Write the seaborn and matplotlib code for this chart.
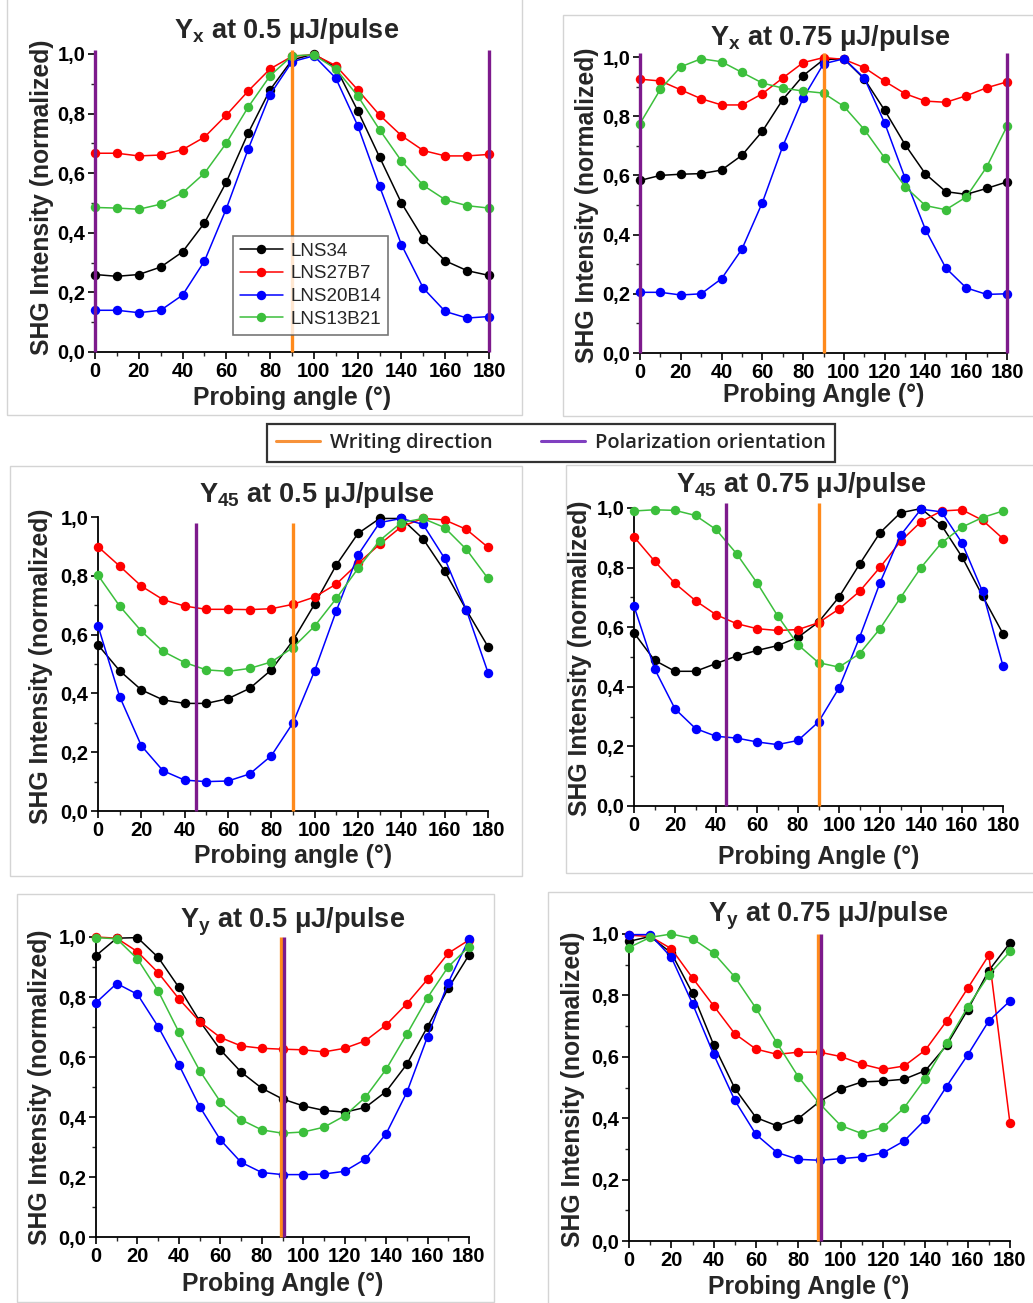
import numpy as np
import pandas as pd
import matplotlib
matplotlib.use("Agg")
import matplotlib.pyplot as plt
import seaborn as sns
from matplotlib.lines import Line2D
from matplotlib.patches import Rectangle
from matplotlib.ticker import MultipleLocator, FuncFormatter

# ---------------- data ----------------
angles = list(range(0, 181, 10))
samples = ["LNS34", "LNS27B7", "LNS20B14", "LNS13B21"]
sample_colors = ["#000000", "#ff0000", "#0000ff", "#3cbf3c"]

# Yx at 0.5 uJ/pulse
yx05_lns34    = [0.26, 0.254, 0.26, 0.285, 0.336, 0.433, 0.57, 0.735, 0.88, 0.98, 1.0, 0.955, 0.81, 0.654, 0.50, 0.38, 0.306, 0.273, 0.257]
yx05_lns27b7  = [0.667, 0.667, 0.658, 0.661, 0.679, 0.721, 0.795, 0.876, 0.95, 0.992, 0.998, 0.961, 0.88, 0.795, 0.726, 0.676, 0.658, 0.658, 0.663]
yx05_lns20b14 = [0.14, 0.14, 0.132, 0.14, 0.191, 0.305, 0.481, 0.681, 0.864, 0.974, 0.994, 0.919, 0.76, 0.556, 0.36, 0.214, 0.136, 0.114, 0.119]
yx05_lns13b21 = [0.485, 0.483, 0.479, 0.496, 0.534, 0.60, 0.701, 0.822, 0.927, 0.994, 0.997, 0.95, 0.86, 0.746, 0.641, 0.559, 0.511, 0.491, 0.483]

# Yx at 0.75 uJ/pulse
yx075_lns34    = [0.583, 0.60, 0.604, 0.606, 0.618, 0.668, 0.749, 0.856, 0.937, 0.991, 0.994, 0.926, 0.82, 0.704, 0.605, 0.545, 0.536, 0.556, 0.578]
yx075_lns27b7  = [0.925, 0.919, 0.889, 0.859, 0.838, 0.838, 0.876, 0.929, 0.981, 0.998, 0.992, 0.964, 0.918, 0.876, 0.851, 0.847, 0.869, 0.896, 0.916]
yx075_lns20b14 = [0.205, 0.205, 0.196, 0.20, 0.251, 0.351, 0.508, 0.698, 0.861, 0.977, 0.994, 0.929, 0.777, 0.591, 0.417, 0.287, 0.22, 0.198, 0.20]
yx075_lns13b21 = [0.775, 0.891, 0.967, 0.994, 0.984, 0.948, 0.912, 0.895, 0.885, 0.878, 0.833, 0.755, 0.659, 0.562, 0.498, 0.484, 0.527, 0.628, 0.766]

# Y45 at 0.5 uJ/pulse
y4505_lns34    = [0.565, 0.477, 0.412, 0.378, 0.366, 0.366, 0.382, 0.417, 0.48, 0.58, 0.704, 0.837, 0.944, 0.995, 0.995, 0.926, 0.816, 0.684, 0.559]
y4505_lns27b7  = [0.899, 0.833, 0.765, 0.719, 0.697, 0.686, 0.686, 0.685, 0.688, 0.703, 0.728, 0.772, 0.842, 0.907, 0.967, 0.995, 0.99, 0.958, 0.897]
y4505_lns20b14 = [0.63, 0.389, 0.222, 0.137, 0.105, 0.10, 0.102, 0.126, 0.188, 0.30, 0.477, 0.681, 0.871, 0.981, 0.995, 0.975, 0.859, 0.684, 0.471]
y4505_lns13b21 = [0.802, 0.697, 0.612, 0.543, 0.505, 0.48, 0.475, 0.485, 0.507, 0.556, 0.629, 0.723, 0.825, 0.92, 0.981, 0.995, 0.964, 0.89, 0.791]

# Y45 at 0.75 uJ/pulse
y45075_lns34    = [0.581, 0.489, 0.452, 0.452, 0.478, 0.503, 0.522, 0.538, 0.566, 0.617, 0.701, 0.811, 0.917, 0.984, 0.998, 0.942, 0.836, 0.705, 0.578]
y45075_lns27b7  = [0.903, 0.822, 0.747, 0.689, 0.642, 0.612, 0.595, 0.589, 0.592, 0.615, 0.661, 0.72, 0.801, 0.888, 0.954, 0.99, 0.994, 0.959, 0.897]
y45075_lns20b14 = [0.671, 0.461, 0.326, 0.26, 0.234, 0.228, 0.215, 0.206, 0.22, 0.282, 0.396, 0.565, 0.749, 0.908, 0.996, 0.987, 0.883, 0.72, 0.47]
y45075_lns13b21 = [0.99, 0.994, 0.992, 0.975, 0.928, 0.847, 0.749, 0.639, 0.541, 0.481, 0.466, 0.511, 0.595, 0.699, 0.80, 0.883, 0.936, 0.968, 0.99]

# Yy at 0.5 uJ/pulse
yy05_lns34    = [0.938, 0.996, 0.998, 0.932, 0.832, 0.72, 0.624, 0.55, 0.496, 0.46, 0.437, 0.422, 0.416, 0.432, 0.485, 0.576, 0.701, 0.829, 0.94]
yy05_lns27b7  = [1.0, 0.996, 0.951, 0.881, 0.794, 0.718, 0.665, 0.637, 0.629, 0.626, 0.624, 0.617, 0.629, 0.654, 0.707, 0.778, 0.859, 0.946, 0.99]
yy05_lns20b14 = [0.781, 0.845, 0.809, 0.701, 0.574, 0.435, 0.324, 0.249, 0.215, 0.208, 0.208, 0.21, 0.219, 0.26, 0.344, 0.482, 0.668, 0.848, 0.993]
yy05_lns13b21 = [0.998, 0.994, 0.927, 0.82, 0.683, 0.555, 0.451, 0.391, 0.357, 0.346, 0.35, 0.366, 0.404, 0.466, 0.559, 0.676, 0.798, 0.901, 0.968]

# Yy at 0.75 uJ/pulse
yy075_lns34    = [0.976, 0.992, 0.938, 0.807, 0.639, 0.497, 0.402, 0.375, 0.399, 0.454, 0.495, 0.518, 0.521, 0.527, 0.555, 0.637, 0.753, 0.881, 0.971]
yy075_lns27b7  = [0.996, 0.992, 0.952, 0.857, 0.766, 0.675, 0.625, 0.608, 0.615, 0.615, 0.601, 0.576, 0.559, 0.57, 0.622, 0.716, 0.823, 0.931, 0.383]
yy075_lns20b14 = [0.998, 0.998, 0.924, 0.773, 0.608, 0.458, 0.347, 0.288, 0.266, 0.263, 0.268, 0.274, 0.287, 0.326, 0.396, 0.503, 0.606, 0.717, 0.782]
yy075_lns13b21 = [0.956, 0.989, 1.0, 0.985, 0.938, 0.86, 0.758, 0.644, 0.535, 0.448, 0.376, 0.35, 0.37, 0.434, 0.529, 0.644, 0.762, 0.867, 0.943]

panel_titles = [r"$\mathrm{Y_{x}}$ at 0.5 μJ/pulse", r"$\mathrm{Y_{x}}$ at 0.75 μJ/pulse",
                r"$\mathrm{Y_{45}}$ at 0.5 μJ/pulse", r"$\mathrm{Y_{45}}$ at 0.75 μJ/pulse",
                r"$\mathrm{Y_{y}}$ at 0.5 μJ/pulse", r"$\mathrm{Y_{y}}$ at 0.75 μJ/pulse"]
panel_xlabels = ["Probing angle (°)", "Probing Angle (°)", "Probing angle (°)",
                 "Probing Angle (°)", "Probing Angle (°)", "Probing Angle (°)"]
ylabel_text = "SHG Intensity (normalized)"
writing_dir = [[90], [90], [90], [90], [89.5], [89.5]]
polar_dir = [[0, 180], [0, 180], [45], [45], [90.6], [90.6]]
legend_labels = ["Writing direction", "Polarization orientation"]

panel_series = [
    [yx05_lns34, yx05_lns27b7, yx05_lns20b14, yx05_lns13b21],
    [yx075_lns34, yx075_lns27b7, yx075_lns20b14, yx075_lns13b21],
    [y4505_lns34, y4505_lns27b7, y4505_lns20b14, y4505_lns13b21],
    [y45075_lns34, y45075_lns27b7, y45075_lns20b14, y45075_lns13b21],
    [yy05_lns34, yy05_lns27b7, yy05_lns20b14, yy05_lns13b21],
    [yy075_lns34, yy075_lns27b7, yy075_lns20b14, yy075_lns13b21],
]

# ---------------- style ----------------
sns.set_theme(style="ticks")
plt.rcParams["font.family"] = ["Liberation Sans", "DejaVu Sans"]
plt.rcParams["mathtext.fontset"] = "custom"
plt.rcParams["mathtext.rm"] = "Liberation Sans:bold"
plt.rcParams["mathtext.bf"] = "Liberation Sans:bold"
plt.rcParams["mathtext.it"] = "Liberation Sans:bold"

W, H = 1033, 1303
fig = plt.figure(figsize=(W / 100, H / 100), dpi=100)
fig.patch.set_facecolor("white")

ORANGE = "#ff8a1c"
PURPLE = "#7d1a8c"

# panel frames (pixel boxes)
frames = [(7, -2, 522, 415), (563, 15, 1036, 416), (10, 466, 522, 876),
          (566, 465, 1036, 873), (17, 894, 494, 1302), (548, 892, 1036, 1306)]
for x0, y0, x1, y1 in frames:
    fig.patches.append(Rectangle((x0 / W, 1 - y1 / H), (x1 - x0) / W, (y1 - y0) / H,
                                 transform=fig.transFigure, fill=False,
                                 edgecolor="#d4d4d4", linewidth=1.0, zorder=0))

# axes pixel boxes: left, right, top(1.0), bottom(0)
axes_px = [(95, 489, 54, 352), (640, 1007, 57, 353), (98, 488, 517, 811),
           (634, 1003, 508, 806), (96, 469, 937, 1237), (629, 1010, 934, 1241)]
vline_top = [1.012, 1.012, 0.978, 1.017, 1.0, 1.0]
title_pos = [(287, 38), (830, 45), (317, 502), (801, 492), (293, 928), (828, 921)]
ylabel_pos = [(42, 197), (587, 205), (41, 666), (580, 658), (40, 1087), (573, 1089)]
xlabel_pos = [(292, 405), (824, 402), (293, 863), (819, 864), (283, 1291), (809, 1294)]

fmt = FuncFormatter(lambda v, p: f"{v:.1f}".replace(".", ","))

for i, (l, r, t, b) in enumerate(axes_px):
    ax = fig.add_axes([l / W, 1 - b / H, (r - l) / W, (b - t) / H])
    ax.set_facecolor("none")
    rows = []
    for s, vals in zip(samples, panel_series[i]):
        for a, v in zip(angles, vals):
            rows.append({"angle": a, "value": v, "sample": s})
    df = pd.DataFrame(rows)
    sns.lineplot(data=df, x="angle", y="value", hue="sample", hue_order=samples,
                 palette=sample_colors, marker="o", markersize=6.8, markeredgewidth=0,
                 linewidth=1.1, sort=False, ax=ax, legend=(i == 0), clip_on=False,
                 zorder=3)
    for x in writing_dir[i]:
        ax.plot([x, x], [0, vline_top[i]], color=ORANGE, linewidth=2.4,
                clip_on=False, zorder=5, solid_capstyle="butt")
    for x in polar_dir[i]:
        ax.plot([x, x], [0, vline_top[i]], color=PURPLE, linewidth=2.4,
                clip_on=False, zorder=5, solid_capstyle="butt")
    ax.set_xlim(0, 180)
    ax.set_ylim(0, 1.0)
    ax.xaxis.set_major_locator(MultipleLocator(20))
    ax.xaxis.set_minor_locator(MultipleLocator(10))
    ax.yaxis.set_major_locator(MultipleLocator(0.2))
    ax.yaxis.set_minor_locator(MultipleLocator(0.1))
    ax.yaxis.set_major_formatter(fmt)
    ax.tick_params(which="major", direction="out", length=5, width=1.2,
                   labelsize=14.5, pad=2, colors="black")
    ax.tick_params(which="minor", direction="out", length=3, width=1.0)
    for lab in ax.get_xticklabels() + ax.get_yticklabels():
        lab.set_fontweight("bold")
    for sp in ["top", "right"]:
        ax.spines[sp].set_visible(False)
    for sp in ["left", "bottom"]:
        ax.spines[sp].set_linewidth(1.3)
        ax.spines[sp].set_color("black")
    ax.set_xlabel("")
    ax.set_ylabel("")

    if i == 0:
        leg = ax.legend(loc="upper left", bbox_to_anchor=(233 / W, 1 - 236 / H),
                        bbox_transform=fig.transFigure, borderaxespad=0,
                        frameon=True, fancybox=False, fontsize=13.5,
                        handlelength=2.3, handletextpad=0.4, labelspacing=0.3,
                        borderpad=0.35)
        leg.get_frame().set_edgecolor("#555555")
        leg.get_frame().set_linewidth(1.2)
        leg.set_title(None)

    tx, ty = title_pos[i]
    fig.text(tx / W, 1 - ty / H, panel_titles[i], ha="center", va="baseline",
             fontsize=19.5, fontweight="bold")
    yx, yy = ylabel_pos[i]
    fig.text(yx / W, 1 - yy / H, ylabel_text, ha="center", va="center",
             rotation=90, fontsize=17.8, fontweight="bold")
    xx, xy = xlabel_pos[i]
    fig.text(xx / W, 1 - xy / H, panel_xlabels[i], ha="center", va="baseline",
             fontsize=17.8, fontweight="bold")

# central legend for the vertical reference lines
handles = [Line2D([], [], color="#f7923a", linewidth=2.2),
           Line2D([], [], color="#8040c0", linewidth=2.2)]
cleg = fig.legend(handles, legend_labels, loc="center",
                  bbox_to_anchor=(551 / W, 1 - 443 / H), ncol=2, frameon=True,
                  fancybox=False, prop={"family": ["Open Sans", "DejaVu Sans"],
                                        "size": 14.5, "weight": "semibold"},
                  handlelength=2.2, handletextpad=0.5, columnspacing=2.4,
                  borderpad=0.45)
cleg.get_frame().set_edgecolor("black")
cleg.get_frame().set_linewidth(1.6)

fig.savefig("out.png", dpi=100, facecolor="white")
